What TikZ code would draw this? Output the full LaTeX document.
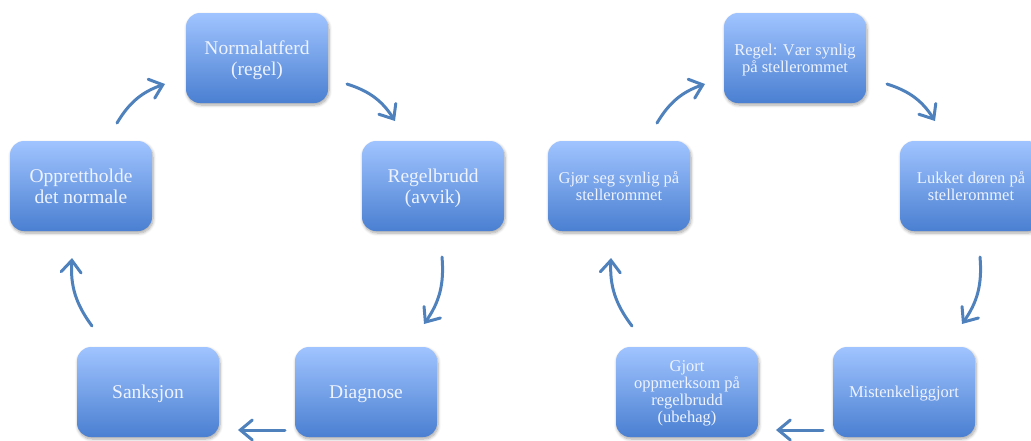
\documentclass[tikz,border=0pt]{standalone}
\usepackage{fontspec}
\setmainfont{Liberation Serif}
\usetikzlibrary{arrows.meta,shadows.blur}
\definecolor{boxtop}{HTML}{A0C4FF}
\definecolor{boxbot}{HTML}{4A7FD1}
\definecolor{arrowc}{HTML}{4F81BD}
\definecolor{txt}{HTML}{EEF3FF}
\begin{document}
\begin{tikzpicture}[x=1pt,y=-1pt,
  cbox/.style={rounded corners=14pt, minimum width=142pt, minimum height=90pt,
    top color=boxtop, bottom color=boxbot, draw=none, text=txt, align=center, inner sep=2pt,
    text depth=0pt,
    blur shadow={shadow xshift=1pt, shadow yshift=-2pt, shadow blur steps=6, shadow opacity=35, shadow blur radius=3pt}},
  bigtxt/.style={font=\fontsize{19.5}{21}\selectfont},
  smalltxt/.style={font=\fontsize{16.5}{17}\selectfont},
  cyc/.style={draw=arrowc, line width=3pt, line cap=round, -{Straight Barb[length=12pt,width=20pt,line cap=round]}}]
\useasboundingbox (0,0) rectangle (1031,440);
% left cycle
\node[cbox,bigtxt] (norm) at (257,58) {Normalatferd\\(regel)};
\node[cbox,bigtxt] (brudd) at (433,186) {Regelbrudd\\(avvik)};
\node[cbox,bigtxt] (diag) at (366,392) {Diagnose};
\node[cbox,bigtxt] (sank) at (148,392) {Sanksjon};
\node[cbox,bigtxt] (oppr) at (81,186) {Opprettholde\\det normale};
% right cycle
\node[cbox,smalltxt] (regel) at (795,58) {Regel: Vær synlig\\på stellerommet};
\node[cbox,smalltxt] (lukk) at (971,186) {Lukket døren på\\stellerommet};
\node[cbox,smalltxt] (mist) at (904,392) {Mistenkeliggjort};
\node[cbox,smalltxt] (gjort) at (687,392) {Gjort\\oppmerksom på\\regelbrudd\\(ubehag)};
\node[cbox,smalltxt] (synl) at (619,186) {Gjør seg synlig på\\stellerommet};
% arrow end points
\coordinate (l1s) at (117,123); \coordinate (l1e) at (165,84);
\coordinate (l2s) at (347,84);  \coordinate (l2e) at (395,121);
\coordinate (l3s) at (442,257); \coordinate (l3e) at (424,324);
\coordinate (l4s) at (285,430); \coordinate (l4e) at (238,430);
\coordinate (l5s) at (92,326);  \coordinate (l5e) at (72,258);
\coordinate (r1s) at (657,123); \coordinate (r1e) at (705,84);
\coordinate (r2s) at (887,84);  \coordinate (r2e) at (935,121);
\coordinate (r3s) at (980,257); \coordinate (r3e) at (962,324);
\coordinate (r4s) at (823,430); \coordinate (r4e) at (776,430);
\coordinate (r5s) at (632,326); \coordinate (r5e) at (611,258);
\draw[cyc] (l1s) to[bend left=20] (l1e);
\draw[cyc] (l2s) to[bend left=20] (l2e);
\draw[cyc] (l3s) to[bend left=20] (l3e);
\draw[cyc] (l4s) -- (l4e);
\draw[cyc] (l5s) to[bend left=20] (l5e);
\draw[cyc] (r1s) to[bend left=20] (r1e);
\draw[cyc] (r2s) to[bend left=20] (r2e);
\draw[cyc] (r3s) to[bend left=20] (r3e);
\draw[cyc] (r4s) -- (r4e);
\draw[cyc] (r5s) to[bend left=20] (r5e);
\end{tikzpicture}
\end{document}
